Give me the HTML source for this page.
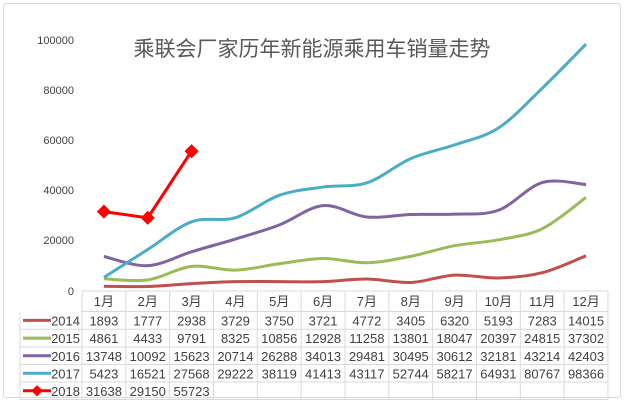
<!DOCTYPE html>
<html><head><meta charset="utf-8"><style>
body{margin:0;background:#fff}
svg text{font-family:"Liberation Sans","Noto Sans CJK SC",sans-serif;fill:#404040}
</style></head><body>
<svg id="s" width="625" height="403" xmlns="http://www.w3.org/2000/svg">
<rect x="3.5" y="3.5" width="617" height="394" fill="#fff" stroke="#d9d9d9" rx="3"/>
<text x="312" y="56" font-size="21" text-anchor="middle" fill="#595959" style="fill:#595959">乘联会厂家历年新能源乘用车销量走势</text>
<g font-size="11" text-anchor="end">
<text x="74" y="44">100000</text><text x="74" y="94">80000</text><text x="74" y="144">60000</text>
<text x="74" y="194">40000</text><text x="74" y="244">20000</text><text x="74" y="295">0</text>
</g>
<g id="g"></g>
</svg>
<script>
var d={2014:[1893,1777,2938,3729,3750,3721,4772,3405,6320,5193,7283,14015],
2015:[4861,4433,9791,8325,10856,12928,11258,13801,18047,20397,24815,37302],
2016:[13748,10092,15623,20714,26288,34013,29481,30495,30612,32181,43214,42403],
2017:[5423,16521,27568,29222,38119,41413,43117,52744,58217,64931,80767,98366],
2018:[31638,29150,55723]};
var col={2014:"#c0504d",2015:"#9bbb59",2016:"#8064a2",2017:"#4bacc6",2018:"#ff0000"};
var x0=82,cw=43.83,X=i=>x0+cw/2+cw*i,Y=v=>291-v*0.00251;
var h='';
function smooth(p){var s='M'+p[0][0]+','+p[0][1];for(var i=0;i<p.length-1;i++){var a=p[i-1]||p[i],b=p[i],c=p[i+1],e=p[i+2]||c;
s+=' C'+(b[0]+(c[0]-a[0])/6)+','+(b[1]+(c[1]-a[1])/6)+' '+(c[0]-(e[0]-b[0])/6)+','+(c[1]-(e[1]-b[1])/6)+' '+c[0]+','+c[1];}return s;}
for(var k of [2014,2015,2016,2017]){var p=d[k].map((v,i)=>[X(i),Y(v)]);h+='<path d="'+smooth(p)+'" fill="none" stroke="'+col[k]+'" stroke-width="3"/>';}
var p=d[2018].map((v,i)=>[X(i),Y(v)]);
h+='<polyline points="'+p.map(q=>q.join(',')).join(' ')+'" fill="none" stroke="#ff0000" stroke-width="3"/>';
p.forEach(q=>{h+='<rect x="'+(q[0]-5)+'" y="'+(q[1]-5)+'" width="10" height="10" fill="#ff0000" transform="rotate(45 '+q[0]+' '+q[1]+')"/>';});
// table
var rows=[291,311.5,329.3,347,364.5,382,399.5];
var L='#d9d9d9';
h+='<line x1="'+x0+'" y1="291" x2="608" y2="291" stroke="'+L+'"/>';
for(var r=1;r<rows.length;r++)h+='<line x1="'+(r==1?x0:20)+'" y1="'+rows[r]+'" x2="608" y2="'+rows[r]+'" stroke="'+L+'"/>';
h+='<line x1="20" y1="311.5" x2="20" y2="399.5" stroke="'+L+'"/>';
for(var i=0;i<=12;i++)h+='<line x1="'+(x0+cw*i)+'" y1="291" x2="'+(x0+cw*i)+'" y2="399.5" stroke="'+L+'"/>';
for(var i=0;i<12;i++)h+='<text x="'+X(i)+'" y="306" font-size="13" text-anchor="middle">'+(i+1)+'月</text>';
var ys=[2014,2015,2016,2017,2018];
ys.forEach((k,r)=>{var cy=(rows[r+1]+rows[r+2])/2;
h+='<line x1="23" y1="'+cy+'" x2="51" y2="'+cy+'" stroke="'+col[k]+'" stroke-width="3"/>';
if(k==2018)h+='<rect x="33" y="'+(cy-4)+'" width="8" height="8" fill="#ff0000" transform="rotate(45 37 '+cy+')"/>';
h+='<text x="80" y="'+(cy+5)+'" font-size="13" text-anchor="end">'+k+'</text>';
d[k].forEach((v,i)=>{h+='<text x="'+X(i)+'" y="'+(cy+5)+'" font-size="13" text-anchor="middle">'+v+'</text>';});});
document.getElementById('g').innerHTML=h;
</script>
</body></html>
